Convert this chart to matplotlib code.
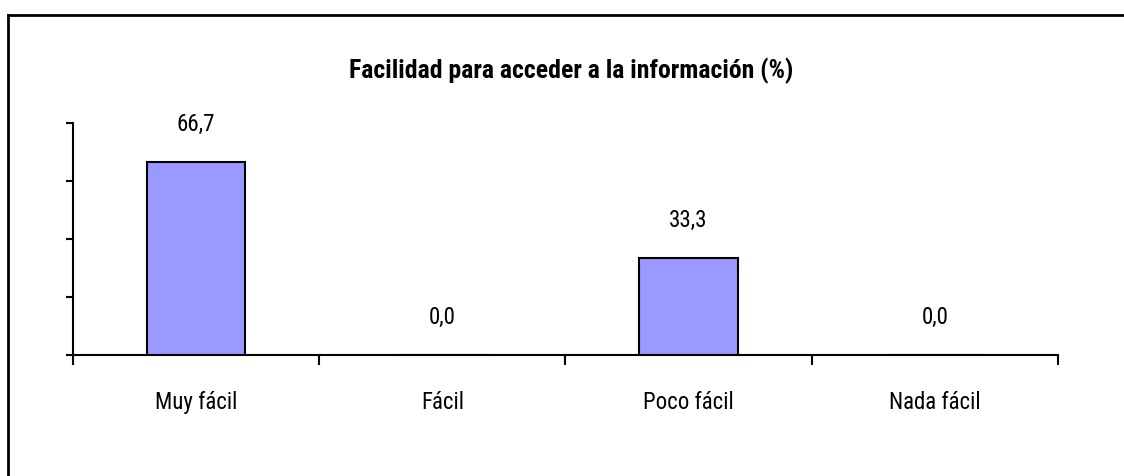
import matplotlib
matplotlib.use('Agg')
from matplotlib import pyplot as plt
from matplotlib.lines import Line2D

categories = ['Muy fácil', 'Fácil', 'Poco fácil', 'Nada fácil']
values = [66.7, 0.0, 33.3, 0.0]
title = 'Facilidad para acceder a la información (%)'

plt.rcParams['font.family'] = ['Roboto Condensed', 'DejaVu Sans']

fig = plt.figure(figsize=(11.24, 4.76), dpi=100)
ax = fig.add_axes([0.0649, 0.2542, 0.8763, 0.4874])

# frame around the chart (only top and left are visible in the crop)
fig.add_artist(Line2D([8 / 1124, 1.0], [1 - 15 / 476] * 2, color='black', lw=2))
fig.add_artist(Line2D([8 / 1124] * 2, [0.0, 1 - 15 / 476], color='black', lw=2))

xs = list(range(len(categories)))
ax.bar(xs, values, width=0.4, color='#9999FF', edgecolor='black', linewidth=1.5, zorder=3)

for x, v in zip(xs, values):
    ax.annotate(('%.1f' % v).replace('.', ','), (x, v), xytext=(0, 27),
                textcoords='offset points', ha='center', va='center', fontsize=16.5)

ax.set_xlim(-0.5, len(categories) - 0.5)
ax.set_ylim(0, 80)
ax.set_yticks([0, 20, 40, 60, 80])
ax.set_yticklabels([])
ax.tick_params(axis='y', length=5, width=1.5, direction='out')

ax.set_xticks(xs)
ax.set_xticklabels(categories, fontsize=16.5)
ax.set_xticks([x - 0.5 for x in xs] + [len(xs) - 0.5], minor=True)
ax.tick_params(axis='x', which='major', length=0, pad=26)
ax.tick_params(axis='x', which='minor', length=7, width=1.5, direction='out')

for side in ['top', 'right']:
    ax.spines[side].set_visible(False)
for side in ['left', 'bottom']:
    ax.spines[side].set_linewidth(1.5)

fig.text(571 / 1124, 1 - 71 / 476, title, ha='center', va='center',
         fontsize=18.5, fontweight='bold')

fig.savefig('out.png', dpi=100)
